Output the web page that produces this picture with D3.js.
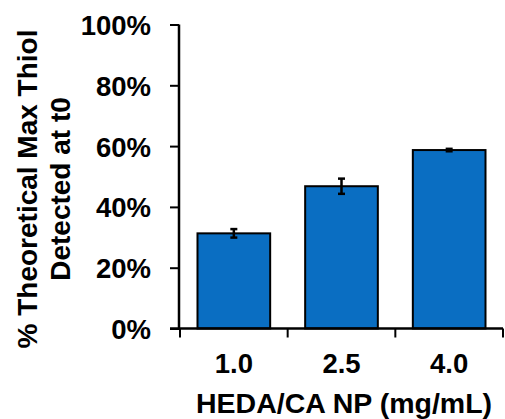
<!DOCTYPE html>
<html>
<head>
<meta charset="utf-8">
<script src="https://cdn.jsdelivr.net/npm/d3@7/dist/d3.min.js"></script>
<style>
  html, body { margin: 0; padding: 0; background: #fff; }
  svg { display: block; }
  text { font-family: "Liberation Sans", Arial, sans-serif; font-weight: bold; fill: #000; }
</style>
</head>
<body>
<svg id="chart" width="505" height="419"></svg>
<script>
// Concentrations of HEDA/CA nanoparticles (mg/mL)
const categories = ["1.0", "2.5", "4.0"];
// Percent of theoretical maximum thiol detected at t0
const values = [31.3, 46.8, 58.7];
// Error bar half-widths (percentage points)
const errors = [1.4, 2.5, 0.4];
// Y axis ticks
const yTicks = [0, 20, 40, 60, 80, 100];

const svg = d3.select("#chart");
const margin = { left: 179, right: 2, top: 24.5, bottom: 90.5 };
const W = 505, H = 419;

const x = d3.scaleBand()
  .domain(categories)
  .range([margin.left + 1, W - margin.right])
  .paddingInner(0.325)
  .paddingOuter(0.1625);

const y = d3.scaleLinear()
  .domain([0, 100])
  .range([H - margin.bottom, margin.top]);

// Bars
svg.append("g").selectAll("rect")
  .data(values)
  .join("rect")
  .attr("x", (d, i) => x(categories[i]))
  .attr("y", d => y(d))
  .attr("width", x.bandwidth())
  .attr("height", d => y(0) - y(d))
  .attr("fill", "#0A6EC2")
  .attr("stroke", "#000")
  .attr("stroke-width", 2);

// Error bars
const eb = svg.append("g").attr("stroke", "#000").attr("stroke-width", 2.5);
values.forEach((v, i) => {
  const cx = x(categories[i]) + x.bandwidth() / 2;
  eb.append("line").attr("x1", cx).attr("x2", cx).attr("y1", y(v + errors[i])).attr("y2", y(v - errors[i]));
  eb.append("line").attr("x1", cx - 3.5).attr("x2", cx + 3.5).attr("y1", y(v + errors[i])).attr("y2", y(v + errors[i]));
  eb.append("line").attr("x1", cx - 3.5).attr("x2", cx + 3.5).attr("y1", y(v - errors[i])).attr("y2", y(v - errors[i]));
});

// Y axis
const yAxis = svg.append("g")
  .attr("transform", `translate(${margin.left},0)`)
  .call(d3.axisLeft(y).tickValues(yTicks).tickFormat(d => d + "%").tickSize(9).tickPadding(19));
yAxis.select(".domain").attr("stroke", "#000").attr("stroke-width", 2.5).attr("d", `M0,${y(100)}V${y(0)}`);
yAxis.selectAll(".tick line").attr("stroke", "#000").attr("stroke-width", 2);
yAxis.selectAll(".tick text").style("font-size", "27.5px").attr("dy", "0.36em");

// X axis with boundary ticks between categories
const xAxisG = svg.append("g").attr("transform", `translate(0,${y(0)})`);
xAxisG.append("line")
  .attr("x1", margin.left - 9).attr("x2", W - margin.right)
  .attr("stroke", "#000").attr("stroke-width", 2.5);
const bounds = [0, 1, 2, 3].map(k => margin.left + 1 + k * x.step());
xAxisG.selectAll("line.tk")
  .data(bounds)
  .join("line")
  .attr("class", "tk")
  .attr("x1", d => d).attr("x2", d => d)
  .attr("y1", 0).attr("y2", 9)
  .attr("stroke", "#000").attr("stroke-width", 2);
xAxisG.selectAll("text")
  .data(categories)
  .join("text")
  .attr("x", d => x(d) + x.bandwidth() / 2)
  .attr("y", 44)
  .attr("text-anchor", "middle")
  .style("font-size", "27.5px")
  .text(d => d);

// Axis titles
svg.append("text")
  .attr("x", 344).attr("y", 413)
  .attr("text-anchor", "middle")
  .style("font-size", "28.5px")
  .text("HEDA/CA NP (mg/mL)");

const yt = svg.append("text")
  .attr("transform", "translate(37,189) rotate(-90)")
  .attr("text-anchor", "middle")
  .style("font-size", "28px");
yt.append("tspan").attr("x", 0).attr("y", 0).text("% Theoretical Max Thiol");
yt.append("tspan").attr("x", 0).attr("y", 33).text("Detected at t0");
</script>
</body>
</html>
